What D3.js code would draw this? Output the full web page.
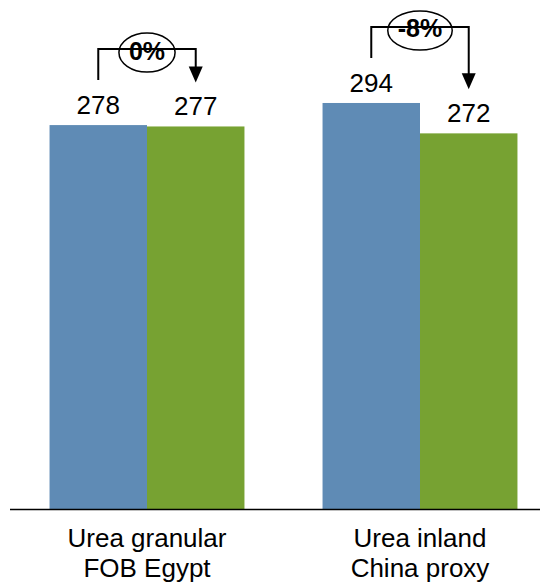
<!DOCTYPE html>
<html><head><meta charset="utf-8">
<script src="https://cdn.jsdelivr.net/npm/d3@7"></script>
<style>body{margin:0;background:#fff}svg{display:block}text{font-family:"Liberation Sans",Arial,sans-serif}</style>
</head><body><svg id="c" width="540" height="582"></svg>
<script>
const categories = [["Urea granular","FOB Egypt"],["Urea inland","China proxy"]];
const seriesA = [278, 294];
const seriesB = [277, 272];
const changes = ["0%", "-8%"];
const colors = ["#5f8bb5", "#77a232"];

const svg = d3.select("#c");
const base = 509;
const y = d3.scaleLinear().domain([0, 300]).range([base, base - 300 * 1.381]);
const x = d3.scaleBand().domain(d3.range(categories.length)).range([10.5, 556.5]).paddingInner(0.286).paddingOuter(0.143);
const xs = d3.scaleBand().domain([0, 1]).range([0, x.bandwidth()]);

const data = categories.map((c, i) => ({i, c, vals: [seriesA[i], seriesB[i]], ch: changes[i]}));

const g = svg.selectAll("g.grp").data(data).join("g").attr("class", "grp")
  .attr("transform", d => `translate(${x(d.i)},0)`);

g.selectAll("rect").data(d => d.vals).join("rect")
  .attr("x", (v, j) => xs(j)).attr("width", xs.bandwidth())
  .attr("y", v => y(v)).attr("height", v => base - y(v))
  .attr("fill", (v, j) => colors[j]);

g.selectAll("text.val").data(d => d.vals).join("text").attr("class", "val")
  .attr("x", (v, j) => xs(j) + xs.bandwidth() / 2)
  .attr("y", v => y(v) - 11)
  .attr("text-anchor", "middle").attr("font-size", 26).attr("fill", "#000")
  .text(v => v);

// axis line
svg.append("line").attr("x1", 10).attr("x2", 540).attr("y1", base + 0.5).attr("y2", base + 0.5)
  .attr("stroke", "#000").attr("stroke-width", 1.5);

// category labels
const lab = svg.selectAll("text.cat").data(data).join("text").attr("class", "cat")
  .attr("text-anchor", "middle").attr("font-size", 26).attr("fill", "#000");
lab.each(function(d) {
  const t = d3.select(this);
  d.c.forEach((line, k) => {
    t.append("tspan").attr("x", x(d.i) + x.bandwidth() / 2).attr("y", 547 + k * 29.5).text(line);
  });
});

// annotations
g.each(function(d) {
  const gg = d3.select(this);
  const lx = xs(0) + xs.bandwidth() / 2;
  const rx = xs(1) + xs.bandwidth() / 2;
  const lb = y(d.vals[0]) - 11;
  const rb = y(d.vals[1]) - 11;
  const top = Math.min(lb, rb) - 65;
  const lStart = lb - 34;
  const tip = rb - 33;
  gg.append("path")
    .attr("d", `M${lx},${lStart}V${top}H${rx}V${tip - 14}`)
    .attr("fill", "none").attr("stroke", "#000").attr("stroke-width", 2);
  gg.append("path")
    .attr("d", `M${rx - 7},${tip - 16}L${rx + 7},${tip - 16}L${rx},${tip}Z`)
    .attr("fill", "#000");
  const cx = x.bandwidth() / 2;
  const txt = gg.append("text").attr("x", cx).attr("y", top + 10.5)
    .attr("text-anchor", "middle").attr("font-size", 25).attr("font-weight", "bold").text(d.ch);
  const w = txt.node().getComputedTextLength();
  gg.insert("ellipse", "text").attr("cx", cx).attr("cy", top + 3.5)
    .attr("rx", w / 2 + 10).attr("ry", 19.5)
    .attr("fill", "#fff").attr("stroke", "#000").attr("stroke-width", 1.5);
});
</script></body></html>
